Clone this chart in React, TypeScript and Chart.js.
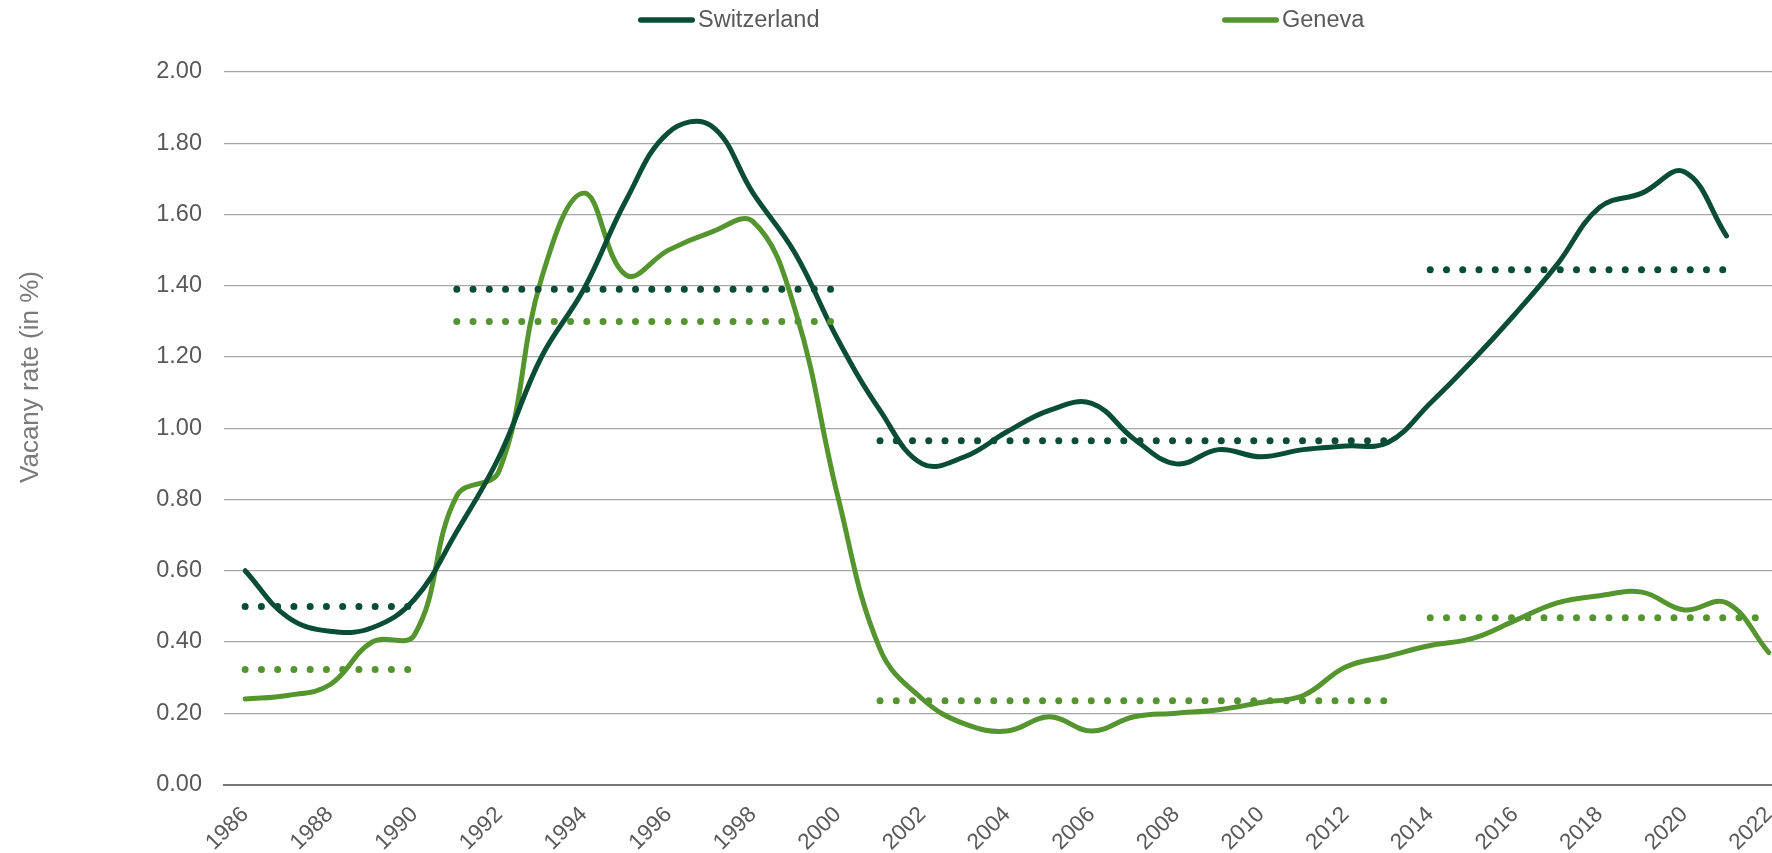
import { useEffect, useRef } from "react";
import { Chart, registerables } from "chart.js";

Chart.register(...registerables);

const FONT = '"Liberation Sans", Arial, Helvetica, sans-serif';

// ---- data ----
const years = [
  "1986", "1987", "1988", "1989", "1990", "1991", "1992", "1993", "1994", "1995",
  "1996", "1997", "1998", "1999", "2000", "2001", "2002", "2003", "2004", "2005",
  "2006", "2007", "2008", "2009", "2010", "2011", "2012", "2013", "2014", "2015",
  "2016", "2017", "2018", "2019", "2020", "2021", "2022",
];

const xTickLabels = years.map((y, i) => (i % 2 === 0 ? y : ""));

const seriesNames = ["Switzerland", "Geneva"];
const seriesColors = ["#0A4D36", "#55952F"];

const switzerland = [
  0.60, 0.47, 0.43, 0.44, 0.52, 0.71, 0.92, 1.20, 1.39, 1.64,
  1.83, 1.85, 1.66, 1.49, 1.25, 1.05, 0.90, 0.92, 0.99, 1.05,
  1.07, 0.97, 0.90, 0.94, 0.92, 0.94, 0.95, 0.96, 1.07, 1.19,
  1.32, 1.46, 1.62, 1.66, 1.72, 1.54, null,
];

const geneva = [
  0.24, 0.25, 0.28, 0.40, 0.42, 0.81, 0.88, 1.42, 1.66, 1.43,
  1.50, 1.55, 1.58, 1.33, 0.81, 0.38, 0.24, 0.17, 0.15, 0.19,
  0.15, 0.19, 0.20, 0.21, 0.23, 0.25, 0.33, 0.36, 0.39, 0.41,
  0.46, 0.51, 0.53, 0.54, 0.49, 0.51, 0.37,
];

// period averages (dotted lines)
const periodStart = ["1986", "1991", "2001", "2014"];
const switzerlandPeriodEnd = ["1990", "2000", "2013", "2021"];
const genevaPeriodEnd = ["1990", "2000", "2013", "2022"];
const switzerlandAverage = [0.50, 1.39, 0.965, 1.445];
const genevaAverage = [0.323, 1.30, 0.235, 0.468];

const yTitle = "Vacany rate (in %)";

// ---- layout constants ----
const PAGE_W = 1772;
const PAGE_H = 853;
const CANVAS_W = 1790;
const PLOT_TOP = 72;
const PLOT_BOTTOM = 784.5;
const PLOT_LEFT = 224;
const LEGEND_X = [638, 1222];
const LEGEND_LINE = 57;
const LEGEND_Y = 20;

function periodData(avg: number, start: string, end: string) {
  const s = years.indexOf(start);
  const e = years.indexOf(end);
  return years.map((_, i) => (i >= s && i <= e ? avg : null));
}

const overlayPlugin = {
  id: "overlayText",
  afterDraw(chart: any) {
    const ctx = chart.ctx as CanvasRenderingContext2D;
    ctx.save();
    // legend
    seriesNames.forEach((name, i) => {
      const x = LEGEND_X[i];
      ctx.strokeStyle = seriesColors[i];
      ctx.lineWidth = 5.5;
      ctx.lineCap = "round";
      ctx.beginPath();
      ctx.moveTo(x + 2.75, LEGEND_Y);
      ctx.lineTo(x + LEGEND_LINE - 2.75, LEGEND_Y);
      ctx.stroke();
      ctx.fillStyle = "#595959";
      ctx.font = `23.5px ${FONT}`;
      ctx.textAlign = "left";
      ctx.textBaseline = "alphabetic";
      ctx.fillText(name, x + LEGEND_LINE + 3, 27);
    });
    // y axis title
    ctx.translate(37.5, 377);
    ctx.rotate(-Math.PI / 2);
    ctx.fillStyle = "#7A7A7A";
    ctx.font = `26px ${FONT}`;
    ctx.textAlign = "center";
    ctx.textBaseline = "alphabetic";
    ctx.fillText(yTitle, 0, 0);
    ctx.restore();
  },
};

export default function App() {
  const canvasRef = useRef<HTMLCanvasElement | null>(null);

  useEffect(() => {
    if (!canvasRef.current) return;

    const mainSets = [switzerland, geneva].map((data, i) => ({
      label: seriesNames[i],
      data,
      borderColor: seriesColors[i],
      backgroundColor: seriesColors[i],
      borderWidth: 5,
      borderCapStyle: "round" as const,
      borderJoinStyle: "round" as const,
      tension: 0.4,
      pointRadius: 0,
      fill: false,
      order: 2,
    }));

    const avgSets: any[] = [];
    periodStart.forEach((start, p) => {
      avgSets.push({
        label: `${seriesNames[0]} average`,
        data: periodData(switzerlandAverage[p], start, switzerlandPeriodEnd[p]),
        borderColor: seriesColors[0],
        borderWidth: 7,
        borderDash: [0, 16.25],
        borderCapStyle: "round",
        tension: 0,
        pointRadius: 0,
        fill: false,
        order: 1,
      });
      avgSets.push({
        label: `${seriesNames[1]} average`,
        data: periodData(genevaAverage[p], start, genevaPeriodEnd[p]),
        borderColor: seriesColors[1],
        borderWidth: 7,
        borderDash: [0, 16.25],
        borderCapStyle: "round",
        tension: 0,
        pointRadius: 0,
        fill: false,
        order: 1,
      });
    });

    const chart = new Chart(canvasRef.current, {
      type: "line",
      data: { labels: years, datasets: [...mainSets, ...avgSets] },
      options: {
        responsive: true,
        maintainAspectRatio: false,
        animation: false,
        layout: { padding: { top: PLOT_TOP, left: 0, right: 0, bottom: 0 } },
        plugins: {
          legend: { display: false },
          tooltip: { enabled: false },
        },
        elements: { point: { radius: 0 } },
        scales: {
          x: {
            type: "category",
            offset: true,
            grid: { display: false, drawTicks: false },
            border: { display: true, color: "#767676", width: 2 },
            ticks: {
              autoSkip: false,
              minRotation: 45,
              maxRotation: 45,
              padding: 17,
              color: "#595959",
              font: { family: FONT, size: 22.5 },
              callback: (_v: any, i: number) => xTickLabels[i],
            },
            afterFit: (s: any) => {
              s.height = PAGE_H - PLOT_BOTTOM;
              s.paddingLeft = 0;
              s.paddingRight = 0;
            },
          },
          y: {
            min: 0,
            max: 2,
            ticks: {
              stepSize: 0.2,
              padding: 22,
              color: "#595959",
              font: { family: FONT, size: 23.5 },
              callback: (v: any) => Number(v).toFixed(2),
            },
            grid: { color: "#A6A6A6", lineWidth: 1.2, drawTicks: false },
            border: { display: false },
            afterFit: (s: any) => {
              s.width = PLOT_LEFT;
            },
          },
        },
      },
      plugins: [overlayPlugin],
    });

    return () => chart.destroy();
  }, []);

  return (
    <div
      style={{
        position: "absolute",
        left: 0,
        top: 0,
        width: PAGE_W,
        height: PAGE_H,
        overflow: "hidden",
        background: "#ffffff",
      }}
    >
      <div style={{ position: "relative", width: CANVAS_W, height: PAGE_H }}>
        <canvas ref={canvasRef} />
      </div>
    </div>
  );
}
